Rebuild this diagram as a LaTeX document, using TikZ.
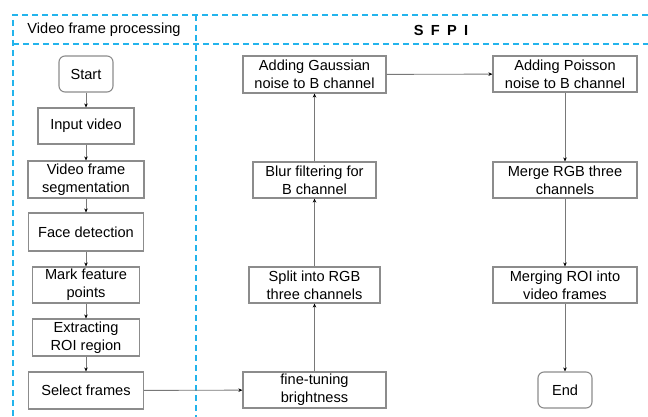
\documentclass[tikz,border=0pt]{standalone}
\usepackage{fontspec}
\setmainfont{Liberation Sans}
\usetikzlibrary{arrows.meta}
\definecolor{dashblue}{RGB}{35,180,236}
\definecolor{boxgray}{RGB}{140,140,140}
\definecolor{linegray}{RGB}{120,120,120}
\begin{document}
\begin{tikzpicture}[x=1pt,y=-1pt,
  every node/.style={font=\fontsize{14.6}{17.6}\selectfont, inner sep=0pt},
  box/.style={draw=boxgray, line width=1.1pt, minimum height=36pt, align=center, fill=white},
  rbox/.style={box, rounded corners=6pt},
  frame/.style={draw=dashblue, line width=1.4pt, dash pattern=on 6pt off 4pt},
  conn/.style={draw=linegray, line width=0.9pt, -{Stealth[length=4pt,width=3.5pt,black]}}]
\useasboundingbox (0,0) rectangle (648,417);
% dashed frames
\draw[frame] (648,15) -- (13,15) -- (13,417);
\draw[frame] (13,44) -- (648,44);
\draw[frame] (196,15) -- (196,417);
\node (h1) at (104,30) {Video frame processing};
\node[font=\bfseries\fontsize{14.6}{17.6}\selectfont] (h2) at (441,30) {S\,\,\,F\,\,\,P\,\,\,I};
% left column
\node[rbox, minimum width=54pt] (start) at (86,74) {Start};
\node[box, minimum width=96pt] (input) at (86,126) {Input video};
\node[box, minimum width=116pt, minimum height=37pt] (seg) at (86,179.5) {Video frame\\segmentation};
\node[box, minimum width=115pt, minimum height=38pt] (face) at (86,232) {Face detection};
\node[box, minimum width=107pt] (mark) at (86,285) {Mark feature\\points};
\node[box, minimum width=107pt, minimum height=37pt] (roi) at (86,337.5) {Extracting\\ROI region};
\node[box, minimum width=115pt, minimum height=37pt] (sel) at (86,390.5) {Select frames};
% SFPI left
\node[box, minimum width=143pt] (fine) at (314.5,390) {fine-tuning\\brightness};
\node[box, minimum width=131pt] (split) at (314.5,285) {Split into RGB\\three channels};
\node[box, minimum width=123pt] (blur) at (314.5,180) {Blur filtering for\\B channel};
\node[box, minimum width=143pt, minimum height=37pt] (gauss) at (314.5,74.5) {Adding Gaussian\\noise to B channel};
% SFPI right
\node[box, minimum width=144pt] (pois) at (565,74) {Adding Poisson\\noise to B channel};
\node[box, minimum width=144pt] (merge) at (565,180) {Merge RGB three\\channels};
\node[box, minimum width=144pt] (mroi) at (565,285) {Merging ROI into\\video frames};
\node[rbox, minimum width=54pt] (end) at (565,390) {End};
% connectors
\draw[conn] (start) -- (input);
\draw[conn] (input) -- (seg);
\draw[conn] (seg) -- (face);
\draw[conn] (face) -- (mark);
\draw[conn] (mark) -- (roi);
\draw[conn] (roi) -- (sel);
\draw[conn] (sel) -- (fine);
\draw[conn] (fine) -- (split);
\draw[conn] (split) -- (blur);
\draw[conn] (blur) -- (gauss);
\draw[conn] (gauss) -- (pois);
\draw[conn] (pois) -- (merge);
\draw[conn] (merge) -- (mroi);
\draw[conn] (mroi) -- (end);
\end{tikzpicture}
\end{document}
